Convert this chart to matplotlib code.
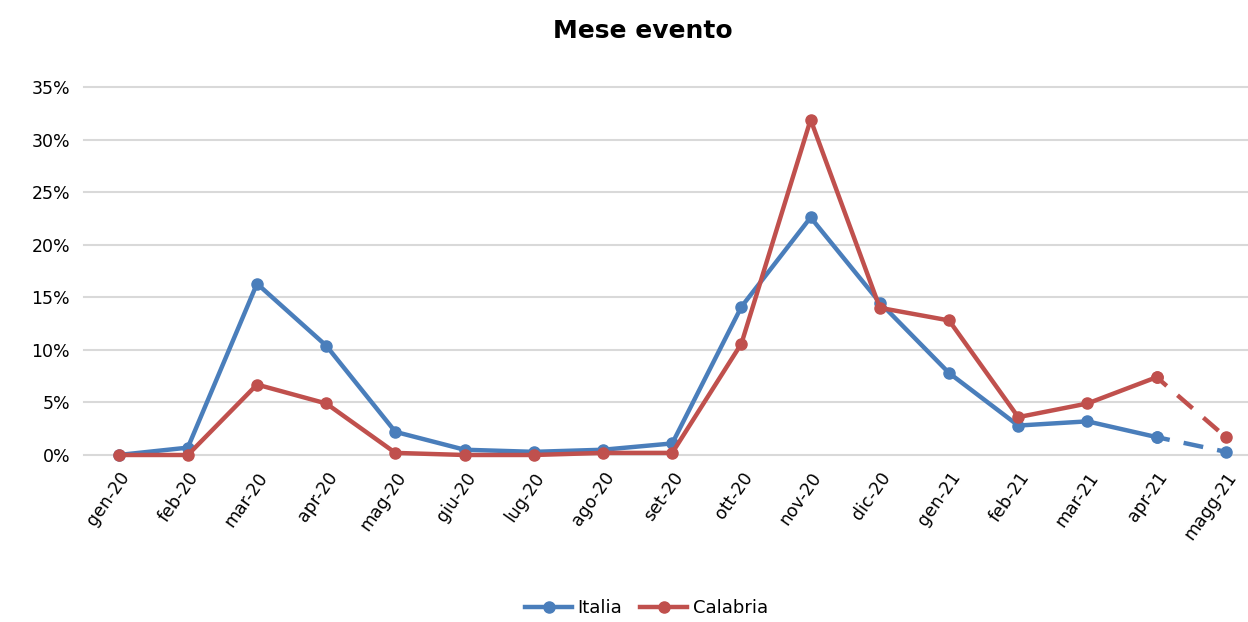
import matplotlib.pyplot as plt
import numpy as np

# mesi e valori (quota percentuale per mese evento)
mesi = ["gen-20", "feb-20", "mar-20", "apr-20", "mag-20", "giu-20", "lug-20", "ago-20",
        "set-20", "ott-20", "nov-20", "dic-20", "gen-21", "feb-21", "mar-21", "apr-21", "magg-21"]
italia = [0.0, 0.7, 16.3, 10.4, 2.2, 0.5, 0.3, 0.5, 1.1, 14.1, 22.6, 14.5, 7.8, 2.8, 3.2, 1.7, 0.3]
calabria = [0.0, 0.0, 6.7, 4.9, 0.2, 0.0, 0.0, 0.2, 0.2, 10.6, 31.9, 14.0, 12.8, 3.6, 4.9, 7.4, 1.7]
yticks = [0, 5, 10, 15, 20, 25, 30, 35]

blu = '#4a7ebb'
rosso = '#c0504d'

fig = plt.figure(figsize=(12.48, 6.22), dpi=100)
ax = fig.add_axes([0.0673, 0.2685, 0.9327, 0.5915])

x = np.arange(len(mesi))
for vals, col, lab in [(italia, blu, "Italia"), (calabria, rosso, "Calabria")]:
    # tratto continuo fino ad apr-21, ultimo tratto tratteggiato
    ax.plot(x[-2:], vals[-2:], color=col, linewidth=3.2, linestyle=(1.5, (4.5, 3.2)),
            marker='o', markersize=8, clip_on=False)
    ax.plot(x[:-1], vals[:-1], color=col, linewidth=3.2, marker='o', markersize=8,
            label=lab, clip_on=False)

ax.set_ylim(0, 35)
ax.set_xlim(-0.5, 16.32)
ax.set_yticks(yticks)
ax.set_yticklabels([f"{v}%" for v in yticks], fontsize=12.5)
ax.set_xticks(x)
ax.set_xticklabels(mesi, rotation=55, ha='right', rotation_mode='anchor', fontsize=12.5)
ax.tick_params(length=0, pad=10)
ax.tick_params(axis='x', pad=10)
ax.grid(axis='y', color='#d9d9d9', linewidth=1.5)
for gl in ax.get_ygridlines():
    gl.set_clip_on(False)
ax.set_axisbelow(True)
for s in ax.spines.values():
    s.set_visible(False)

fig.text(0.515, 0.95, "Mese evento", ha='center', va='center', fontsize=18, fontweight='bold')

leg = fig.legend(loc='center', bbox_to_anchor=(0.518, 0.022), ncol=2, frameon=False,
                 fontsize=13, handlelength=2.6, columnspacing=1.0, handletextpad=0.3)

fig.savefig("out.png", dpi=100)
